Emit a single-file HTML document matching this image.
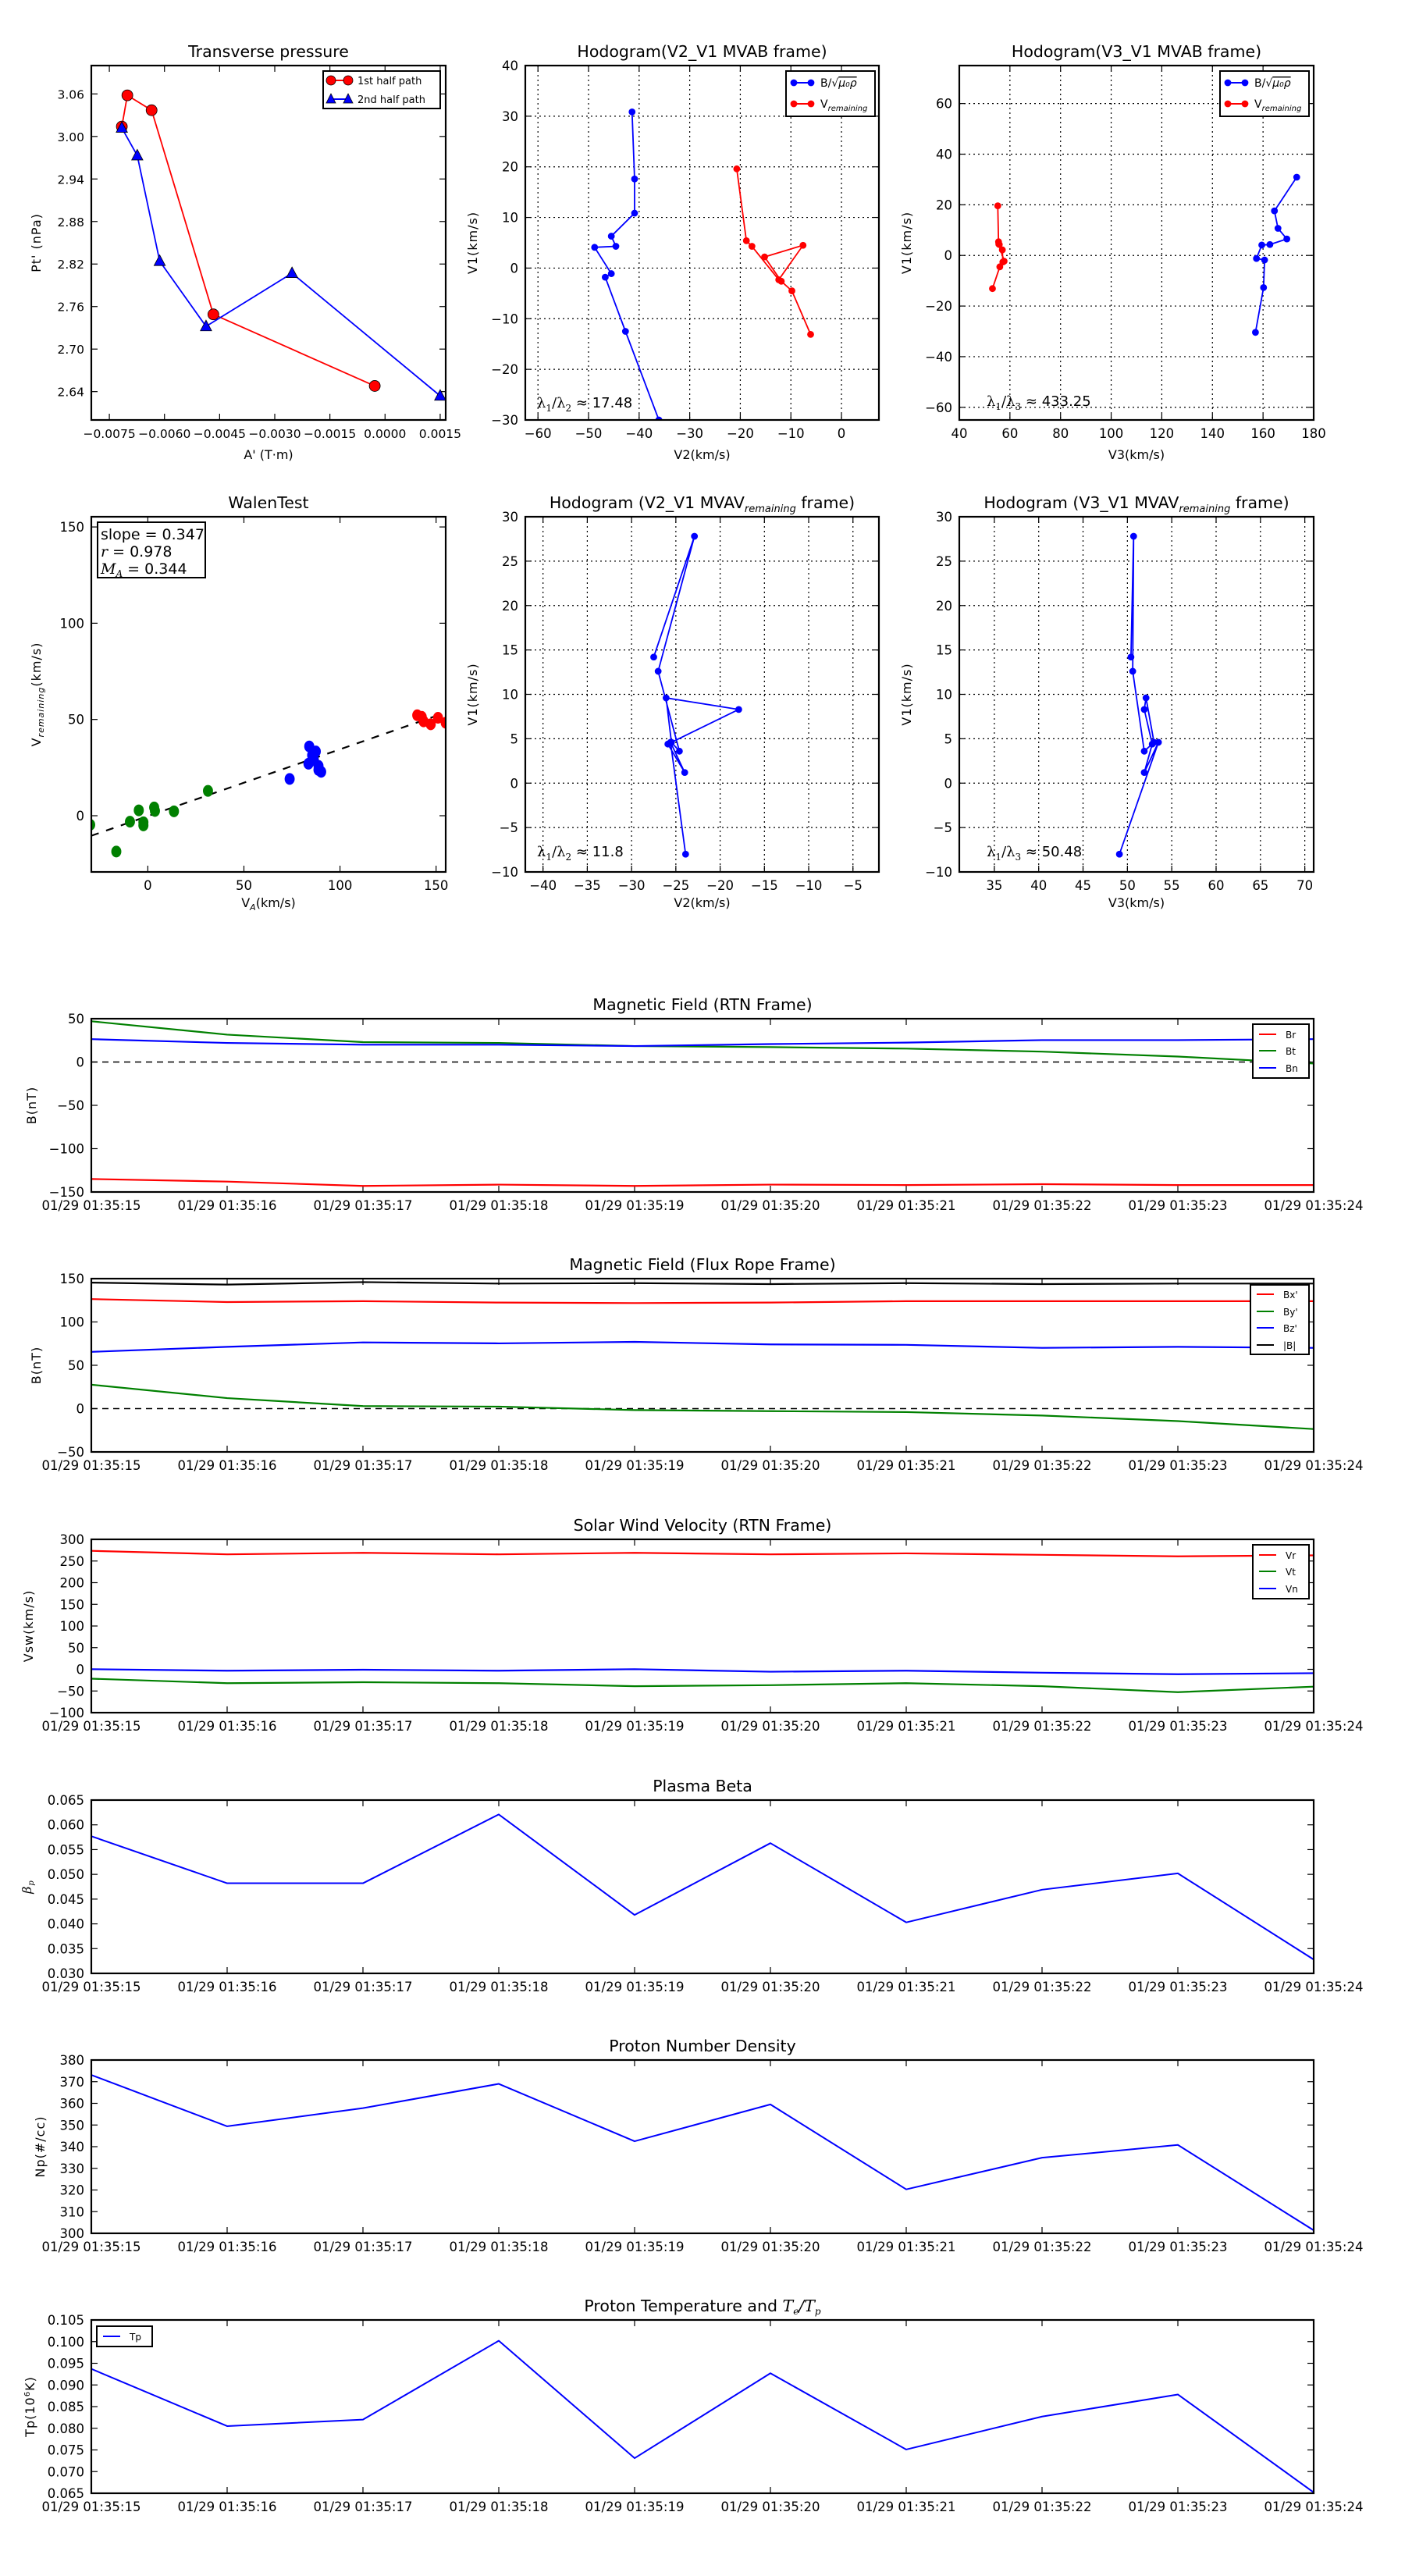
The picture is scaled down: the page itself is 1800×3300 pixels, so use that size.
<!DOCTYPE html>
<html><head><meta charset="utf-8"><title>Flux rope analysis</title>
<style>
html,body{margin:0;padding:0;background:#fff;}
svg{display:block;font-family:"DejaVu Sans","Liberation Sans",sans-serif;}
</style></head>
<body>
<svg id="fig" xmlns="http://www.w3.org/2000/svg" width="1800" height="3300" viewBox="0 0 1800 3300"></svg>
<script>
// ---------- DATA ----------
// Transverse pressure
const tpRedX = [-0.00716,-0.00701,-0.00635,-0.00467,-0.00028];
const tpRedY = [3.014,3.058,3.037,2.749,2.648];
const tpBlueX = [-0.00716,-0.00674,-0.00613,-0.00487,-0.00253,0.0015];
const tpBlueY = [3.012,2.973,2.824,2.732,2.807,2.634];
// Hodogram V2-V1 MVAB
const h1BlueX = [-41.4,-40.9,-40.9,-45.5,-44.6,-48.8,-45.5,-46.7,-42.7,-36.1];
const h1BlueY = [30.85,17.6,10.85,6.3,4.3,4.1,-1.1,-1.8,-12.5,-30];
const h1RedX = [-20.7,-18.8,-17.7,-12.4,-7.6,-15.2,-11.9,-9.8,-6.1];
const h1RedY = [19.6,5.4,4.3,-2.3,4.5,2.2,-2.6,-4.5,-13.1];
// Hodogram V3-V1 MVAB
const h2BlueX = [173.3,164.5,165.9,169.4,162.7,159.5,157.4,160.6,160.2,157.0];
const h2BlueY = [30.9,17.6,10.7,6.5,4.3,4.1,-1.2,-1.8,-12.7,-30.4];
const h2RedX = [55.2,55.5,55.8,57.7,55.6,57.0,57.2,56.0,53.1];
const h2RedY = [19.6,5.4,4.3,-2.3,4.5,2.2,-2.6,-4.5,-13.1];
// Walen test
const wGreenX = [-30,-16.4,-9.3,-4.7,-2.3,-2.3,3.3,3.7,13.6,31.3];
const wGreenY = [-4.7,-18.6,-3.1,2.8,-5,-3.4,4.3,2.5,2.3,12.9];
const wBlueX = [73.8,84,85.5,87.4,83.6,88.8,90.2,86.4,88.8];
const wBlueY = [19.1,36,31.4,33.4,27.0,25.9,22.8,29,23.8];
const wRedX = [140.2,142.5,147.2,151,155,143.5];
const wRedY = [52.2,51.4,47.5,50.9,48.3,49];
const walenSlope = 0.347;
const walenIntercept = -0.2;
// Hodograms MVAV
const h3X = [-23.9,-25.6,-24.0,-25.9,-17.9,-26.1,-25.5,-24.6,-27.0,-22.9,-27.5];
const h3Y = [-8.0,4.6,1.2,4.4,8.3,9.6,4.6,3.6,12.6,27.8,14.2];
const h4X = [49.1,53.5,51.9,52.8,51.9,52.1,53.0,51.9,50.6,50.7,50.4];
const h4Y = [-8.0,4.6,1.2,4.4,8.3,9.6,4.6,3.6,12.6,27.8,14.2];
// Time series
const timeLabels = ["01/29 01:35:15","01/29 01:35:16","01/29 01:35:17","01/29 01:35:18","01/29 01:35:19","01/29 01:35:20","01/29 01:35:21","01/29 01:35:22","01/29 01:35:23","01/29 01:35:24"];
const br = [-135,-138,-143,-141.5,-143,-141.5,-142,-141,-142,-142];
const bt = [47,31.6,23,22,18.4,17.2,15.5,12,6.3,-1.7];
const bn = [26.4,22,20,20,18.4,20.7,22.4,25.3,25.3,26.4];
const bxp = [126.4,123,124,122.4,121.8,122.4,124,124,124,124];
const byp = [27.6,12.1,2.9,2.3,-1.7,-2.9,-4,-8,-14.4,-23.6];
const bzp = [65.5,71.3,76.4,75.3,77,74.1,73.6,70.1,71.3,70.1];
const bmag = [145.4,143.1,146,144.3,144.8,143.7,144.8,143.7,144.3,144.3];
const vr = [273.5,265.4,268.9,265.4,268.9,265.4,267.7,264.3,260.8,263];
const vt = [-21.6,-32,-29.7,-32,-38.9,-36.6,-32,-38.9,-52.7,-40];
const vn = [0.3,-3.2,-0.9,-3.2,0.3,-5.5,-3.2,-7.8,-11.2,-8.9];
const beta = [0.0577,0.0482,0.0482,0.0621,0.0418,0.0563,0.0403,0.0469,0.0502,0.0328];
const np = [373.1,349.4,357.8,369,342.5,359.5,320.3,334.9,340.8,301.4];
const tp = [0.0937,0.0805,0.0820,0.1002,0.0731,0.0927,0.0751,0.0827,0.0878,0.0652];

// ---------- HELPERS ----------
const NS = "http://www.w3.org/2000/svg";
const svg = document.getElementById('fig');
let clipN = 0;
function mk(tag, attrs, parent){
  const e = document.createElementNS(NS, tag);
  for (const k in attrs) e.setAttribute(k, attrs[k]);
  (parent||svg).appendChild(e);
  return e;
}
function fmtNum(v, dec){
  const s = Math.abs(v).toFixed(dec);
  return (v < -1e-12 ? "\u2212" : "") + s;
}
function range(a,b,s){const r=[];for(let v=a;v<=b+s*1e-6;v+=s)r.push(+v.toFixed(6));return r;}

function makeAxes(o){
  const g = mk('g', {});
  
  
  const sx = v => o.x0 + (v - o.xmin)/(o.xmax - o.xmin)*o.w;
  const sy = v => o.y0 + o.h - (v - o.ymin)/(o.ymax - o.ymin)*o.h;
  // grid
  if (o.grid){
    o.xticks.forEach(t=>{
      const l = mk('line',{x1:sx(t),x2:sx(t),y1:o.y0,y2:o.y0+o.h,stroke:'#000','stroke-width':1.2,'stroke-dasharray':'2,4'},g);
      
      
    });
    o.yticks.forEach(t=>{
      const l = mk('line',{x1:o.x0,x2:o.x0+o.w,y1:sy(t),y2:sy(t),stroke:'#000','stroke-width':1.2,'stroke-dasharray':'2,4'},g);
      
      
    });
  }
  // ticks
  o.xticks.forEach((t,i)=>{
    const x = sx(t);
    const a = mk('line',{x1:x,x2:x,y1:o.y0+o.h,y2:o.y0+o.h-8,stroke:'#000','stroke-width':1.2},g);
    
    
    const b = mk('line',{x1:x,x2:x,y1:o.y0,y2:o.y0+8,stroke:'#000','stroke-width':1.2},g);
    
    
    const tx = mk('text',{x:x,y:o.y0+o.h+(o.xtickDy||23),'text-anchor':'middle','font-size':o.tickFs||16.5,fill:'#000'},g);
    tx.textContent = o.xlab ? o.xlab(t,i) : fmtNum(t,0);
    
    
  });
  o.yticks.forEach((t,i)=>{
    const y = sy(t);
    const a = mk('line',{x1:o.x0,x2:o.x0+8,y1:y,y2:y,stroke:'#000','stroke-width':1.2},g);
    
    
    const b = mk('line',{x1:o.x0+o.w,x2:o.x0+o.w-8,y1:y,y2:y,stroke:'#000','stroke-width':1.2},g);
    
    
    const tx = mk('text',{x:o.x0-9,y:y+6,'text-anchor':'end','font-size':o.tickFs||16.5,fill:'#000'},g);
    tx.textContent = o.ylab ? o.ylab(t,i) : fmtNum(t,0);
    
    
  });
  // clip
  const id = 'c'+(clipN++);
  const cp = mk('clipPath',{id:id},g);
  mk('rect',{x:o.x0,y:o.y0,width:o.w,height:o.h},cp);
  const plot = mk('g',{'clip-path':'url(#'+id+')'},g);
  
  
  // frame
  const fr = mk('rect',{x:o.x0,y:o.y0,width:o.w,height:o.h,fill:'none',stroke:'#000','stroke-width':2.2},g);
  
  
  // title
  if (o.title){
    const t = mk('text',{x:o.x0+o.w/2,y:o.y0-11,'text-anchor':'middle','font-size':20.5,fill:'#000'},g);
    t.innerHTML = o.title;
    
    
  }
  if (o.xlabel){
    const t = mk('text',{x:o.x0+o.w/2,y:o.xlabelY,'text-anchor':'middle','font-size':16,fill:'#000'},g);
    t.innerHTML = o.xlabel;
    
    
  }
  if (o.ylabel){
    const cy = o.y0+o.h/2;
    const t = mk('text',{x:o.ylabelX,y:cy,'text-anchor':'middle','font-size':16,fill:'#000','letter-spacing':'1',transform:'rotate(-90 '+o.ylabelX+' '+cy+')'},g);
    t.innerHTML = o.ylabel;
    
    
  }
  return {sx, sy, g, plot};
}
function series(ax, xs, ys, color, name, marker, mr, lw){
  const pts = xs.map((x,i)=>ax.sx(x)+','+ax.sy(ys[i])).join(' ');
  const pl = mk('polyline',{points:pts,fill:'none',stroke:color,'stroke-width':lw||1.8,'stroke-linejoin':'round'},ax.plot);
  
  
  if (marker){
    xs.forEach((x,i)=>{
      let m;
      if (marker==='tri'){
        const cx=ax.sx(x), cy=ax.sy(ys[i]);
        m = mk('polygon',{points:(cx)+','+(cy-mr)+' '+(cx-mr*0.9)+','+(cy+mr*0.7)+' '+(cx+mr*0.9)+','+(cy+mr*0.7),fill:color,stroke:'#000','stroke-width':0.8},ax.plot);
      } else {
        m = mk('circle',{cx:ax.sx(x),cy:ax.sy(ys[i]),r:mr,fill:color,stroke:marker==='edge'?'#000':color,'stroke-width':0.8},ax.plot);
      }
      
      
    });
  }
}
function scatter(ax, xs, ys, color, name, r){
  xs.forEach((x,i)=>{
    const m = mk('ellipse',{cx:ax.sx(x),cy:ax.sy(ys[i]),rx:r*0.85,ry:r,fill:color,stroke:color},ax.plot);
    
    
  });
}
function legendBox(x,y,w,h){
  const r = mk('rect',{x:x,y:y,width:w,height:h,fill:'#fff',stroke:'#000','stroke-width':2});
  
  
}
function legendEntry(x,y,color,label,fs,marker,name){
  const l = mk('line',{x1:x,x2:x+22,y1:y,y2:y,stroke:color,'stroke-width':2});
  
  
  if (marker){
    [x,x+22].forEach(px=>{
      let m;
      if (marker==='tri') m = mk('polygon',{points:px+','+(y-7)+' '+(px-6)+','+(y+5)+' '+(px+6)+','+(y+5),fill:color,stroke:'#000','stroke-width':0.8});
      else m = mk('circle',{cx:px,cy:y,r:marker==='big'?6:4,fill:color,stroke:marker==='big'?'#000':color,'stroke-width':0.8});
      
      
    });
  }
  const t = mk('text',{x:x+34,y:y+5,'font-size':fs,fill:'#000'});
  t.innerHTML = label;
  
  
}
function annot(x,y,html,fs){
  const t = mk('text',{x:x,y:y,'font-size':fs||18,fill:'#000','font-family':'"DejaVu Serif","Liberation Serif",serif'});
  t.innerHTML = html;
  
  
}

// ---------- ROW 1 ----------
const ax1 = makeAxes({name:'transverse-pressure-chart',x0:117,y0:84,w:454,h:454,xmin:-0.00799,xmax:0.00165,ymin:2.60,ymax:3.10,
  xticks:range(-0.0075,0.0015,0.0015),yticks:range(2.64,3.06,0.06),
  xlab:t=>fmtNum(t,4),ylab:t=>t.toFixed(2),tickFs:15.5,
  title:'Transverse pressure',xlabel:"A' (T\u00b7m)",xlabelY:588,ylabel:"Pt' (nPa)",ylabelX:52});
series(ax1,tpRedX,tpRedY,'#ff0000','first-half-path','edge',7,1.8);
series(ax1,tpBlueX,tpBlueY,'#0000ff','second-half-path','tri',8,1.8);
legendBox(414,91,150,48);
legendEntry(424,103,'#ff0000','1st half path',13,'big','first-half');
legendEntry(424,127,'#0000ff','2nd half path',13,'tri','second-half');

const ax2 = makeAxes({name:'hodogram-v2-v1-mvab-chart',x0:673,y0:84,w:453,h:454,xmin:-62.5,xmax:7.4,ymin:-30,ymax:40,
  xticks:range(-60,0,10),yticks:range(-30,40,10),grid:true,
  title:'Hodogram(V2_V1 MVAB frame)',xlabel:'V2(km/s)',xlabelY:588,ylabel:'V1(km/s)',ylabelX:611});
series(ax2,h1BlueX,h1BlueY,'#0000ff','b-field-hodogram','dot',4,1.8);
series(ax2,h1RedX,h1RedY,'#ff0000','v-remaining-hodogram','dot',4,1.8);
annot(688,522,'λ<tspan font-size="12" dy="5">1</tspan><tspan dy="-5">/λ</tspan><tspan font-size="12" dy="5">2</tspan><tspan dy="-5" font-family="DejaVu Sans"> ≈ 17.48</tspan>');
legendBox(1007,91,114,58);
legendEntry(1017,106,'#0000ff','B/√<tspan text-decoration="overline" font-style="italic">μ₀ρ</tspan>',14,'dot','b-field');
legendEntry(1017,133,'#ff0000','V<tspan font-size="10" dy="4" font-style="italic">remaining</tspan>',14,'dot','v-remaining');

const ax3 = makeAxes({name:'hodogram-v3-v1-mvab-chart',x0:1229,y0:84,w:454,h:454,xmin:40,xmax:180,ymin:-65,ymax:75,
  xticks:range(40,180,20),yticks:range(-60,60,20),grid:true,
  title:'Hodogram(V3_V1 MVAB frame)',xlabel:'V3(km/s)',xlabelY:588,ylabel:'V1(km/s)',ylabelX:1167});
series(ax3,h2BlueX,h2BlueY,'#0000ff','b-field-hodogram','dot',4,1.8);
series(ax3,h2RedX,h2RedY,'#ff0000','v-remaining-hodogram','dot',4,1.8);
annot(1264,520,'λ<tspan font-size="12" dy="5">1</tspan><tspan dy="-5">/λ</tspan><tspan font-size="12" dy="5">3</tspan><tspan dy="-5" font-family="DejaVu Sans"> ≈ 433.25</tspan>');
legendBox(1563,91,114,58);
legendEntry(1573,106,'#0000ff','B/√<tspan text-decoration="overline" font-style="italic">μ₀ρ</tspan>',14,'dot','b-field');
legendEntry(1573,133,'#ff0000','V<tspan font-size="10" dy="4" font-style="italic">remaining</tspan>',14,'dot','v-remaining');

// ---------- ROW 2 ----------
const ax4 = makeAxes({name:'walen-test-chart',x0:117,y0:662,w:454,h:455,xmin:-29.4,xmax:155,ymin:-29.2,ymax:155.3,
  xticks:range(0,150,50),yticks:range(0,150,50),
  title:'WalenTest',xlabel:'V<tspan font-size="11" dy="4" font-style="italic">A</tspan><tspan dy="-4">(km/s)</tspan>',xlabelY:1162,
  ylabel:'V<tspan font-size="11" dy="4" font-style="italic">remaining</tspan><tspan dy="-4">(km/s)</tspan>',ylabelX:52});
{
  const fx = [ax4.sx.length?-29.4:-29.4, 155];
  const l = mk('line',{x1:ax4.sx(fx[0]),y1:ax4.sy(walenSlope*fx[0]+walenIntercept),x2:ax4.sx(fx[1]),y2:ax4.sy(walenSlope*fx[1]+walenIntercept),stroke:'#000','stroke-width':2.2,'stroke-dasharray':'10,10'},ax4.plot);
  
  
}
scatter(ax4,wGreenX,wGreenY,'#008000','walen-green',7);
scatter(ax4,wBlueX,wBlueY,'#0000ff','walen-blue',7);
scatter(ax4,wRedX,wRedY,'#ff0000','walen-red',7);
{
  legendBox(125,669,138,71);
  const t1 = mk('text',{x:129,y:691,'font-size':19,fill:'#000'}); t1.textContent='slope = 0.347';
   
  const t2 = mk('text',{x:129,y:713,'font-size':19,fill:'#000'}); t2.innerHTML='<tspan font-family="DejaVu Serif" font-style="italic">r</tspan> = 0.978';
   
  const t3 = mk('text',{x:129,y:735,'font-size':19,fill:'#000'}); t3.innerHTML='<tspan font-family="DejaVu Serif" font-style="italic">M<tspan font-size="12" dy="4">A</tspan></tspan><tspan dy="-4"> = 0.344</tspan>';
   
}

const ax5 = makeAxes({name:'hodogram-v2-v1-mvav-chart',x0:673,y0:662,w:453,h:455,xmin:-42,xmax:-2.07,ymin:-10,ymax:30,
  xticks:range(-40,-5,5),yticks:range(-10,30,5),grid:true,
  title:'Hodogram (V2_V1 MVAV<tspan font-size="13" dy="5" font-style="italic">remaining</tspan><tspan dy="-5"> frame)</tspan>',xlabel:'V2(km/s)',xlabelY:1162,ylabel:'V1(km/s)',ylabelX:611});
series(ax5,h3X,h3Y,'#0000ff','mvav-hodogram-v2','dot',4,1.8);
annot(688,1097,'λ<tspan font-size="12" dy="5">1</tspan><tspan dy="-5">/λ</tspan><tspan font-size="12" dy="5">2</tspan><tspan dy="-5" font-family="DejaVu Sans"> ≈ 11.8</tspan>');

const ax6 = makeAxes({name:'hodogram-v3-v1-mvav-chart',x0:1229,y0:662,w:454,h:455,xmin:31.05,xmax:71,ymin:-10,ymax:30,
  xticks:range(35,70,5),yticks:range(-10,30,5),grid:true,
  title:'Hodogram (V3_V1 MVAV<tspan font-size="13" dy="5" font-style="italic">remaining</tspan><tspan dy="-5"> frame)</tspan>',xlabel:'V3(km/s)',xlabelY:1162,ylabel:'V1(km/s)',ylabelX:1167});
series(ax6,h4X,h4Y,'#0000ff','mvav-hodogram-v3','dot',4,1.8);
annot(1264,1097,'λ<tspan font-size="12" dy="5">1</tspan><tspan dy="-5">/λ</tspan><tspan font-size="12" dy="5">3</tspan><tspan dy="-5" font-family="DejaVu Sans"> ≈ 50.48</tspan>');

// ---------- TIME SERIES ----------
const tIdx = timeLabels.map((_,i)=>i);
function tsAxes(name,y0,ymin,ymax,yticks,ylab,title,ylabel,ylabelX){
  return makeAxes({name:name,x0:117,y0:y0,w:1566,h:222,xmin:0,xmax:9,ymin:ymin,ymax:ymax,
    xticks:tIdx,yticks:yticks,xlab:(t,i)=>timeLabels[i],ylab:ylab,title:title,ylabel:ylabel,ylabelX:ylabelX});
}
function zeroLine(ax){
  const l = mk('line',{x1:ax.sx(0),x2:ax.sx(9),y1:ax.sy(0),y2:ax.sy(0),stroke:'#000','stroke-width':1.5,'stroke-dasharray':'8,6'},ax.plot);
  
  
}
const ax7 = tsAxes('magnetic-field-rtn-chart',1305,-150,50,range(-150,50,50),null,'Magnetic Field (RTN Frame)','B(nT)',46);
zeroLine(ax7);
series(ax7,tIdx,br,'#ff0000','br',null,0,2.2);
series(ax7,tIdx,bt,'#008000','bt',null,0,2.2);
series(ax7,tIdx,bn,'#0000ff','bn',null,0,2.2);
legendBox(1605,1312,72,69);
legendEntry(1613,1325,'#ff0000','Br',12,null,'br');
legendEntry(1613,1346,'#008000','Bt',12,null,'bt');
legendEntry(1613,1368,'#0000ff','Bn',12,null,'bn');

const ax8 = tsAxes('magnetic-field-flux-rope-chart',1638,-50,150,range(-50,150,50),null,'Magnetic Field (Flux Rope Frame)','B(nT)',52);
zeroLine(ax8);
series(ax8,tIdx,bxp,'#ff0000','bx-prime',null,0,2.2);
series(ax8,tIdx,byp,'#008000','by-prime',null,0,2.2);
series(ax8,tIdx,bzp,'#0000ff','bz-prime',null,0,2.2);
series(ax8,tIdx,bmag,'#000000','b-magnitude',null,0,2.2);
legendBox(1602,1646,75,89);
legendEntry(1610,1658,'#ff0000',"Bx'",12,null,'bx-prime');
legendEntry(1610,1680,'#008000',"By'",12,null,'by-prime');
legendEntry(1610,1701,'#0000ff',"Bz'",12,null,'bz-prime');
legendEntry(1610,1723,'#000000','|B|',12,null,'b-magnitude');

const ax9 = tsAxes('solar-wind-velocity-chart',1972,-100,300,range(-100,300,50),null,'Solar Wind Velocity (RTN Frame)','Vsw(km/s)',42);
series(ax9,tIdx,vr,'#ff0000','vr',null,0,2.2);
series(ax9,tIdx,vt,'#008000','vt',null,0,2.2);
series(ax9,tIdx,vn,'#0000ff','vn',null,0,2.2);
legendBox(1605,1979,72,69);
legendEntry(1613,1992,'#ff0000','Vr',12,null,'vr');
legendEntry(1613,2013,'#008000','Vt',12,null,'vt');
legendEntry(1613,2035,'#0000ff','Vn',12,null,'vn');

const ax10 = tsAxes('plasma-beta-chart',2306,0.030,0.065,range(0.030,0.065,0.005),t=>t.toFixed(3),'Plasma Beta','<tspan font-family="DejaVu Serif" font-style="italic">β<tspan font-size="10" dy="3">p</tspan></tspan>',40);
series(ax10,tIdx,beta,'#0000ff','plasma-beta',null,0,2);

const ax11 = tsAxes('proton-density-chart',2639,300,380,range(300,380,10),null,'Proton Number Density','Np(#/cc)',57);
series(ax11,tIdx,np,'#0000ff','proton-density',null,0,2);

const ax12 = tsAxes('proton-temperature-chart',2972,0.065,0.105,range(0.065,0.105,0.005),t=>t.toFixed(3),'Proton Temperature and <tspan font-family="DejaVu Serif" font-style="italic">T<tspan font-size="12" dy="4">e</tspan><tspan dy="-4">/T</tspan><tspan font-size="12" dy="4">p</tspan></tspan>','Tp(10<tspan font-size="10" dy="-6">6</tspan><tspan dy="6">K)</tspan>',44);
series(ax12,tIdx,tp,'#0000ff','proton-temperature',null,0,2);
legendBox(124,2980,71,26);
legendEntry(132,2993,'#0000ff','Tp',12,null,'tp');
</script>
</body></html>
